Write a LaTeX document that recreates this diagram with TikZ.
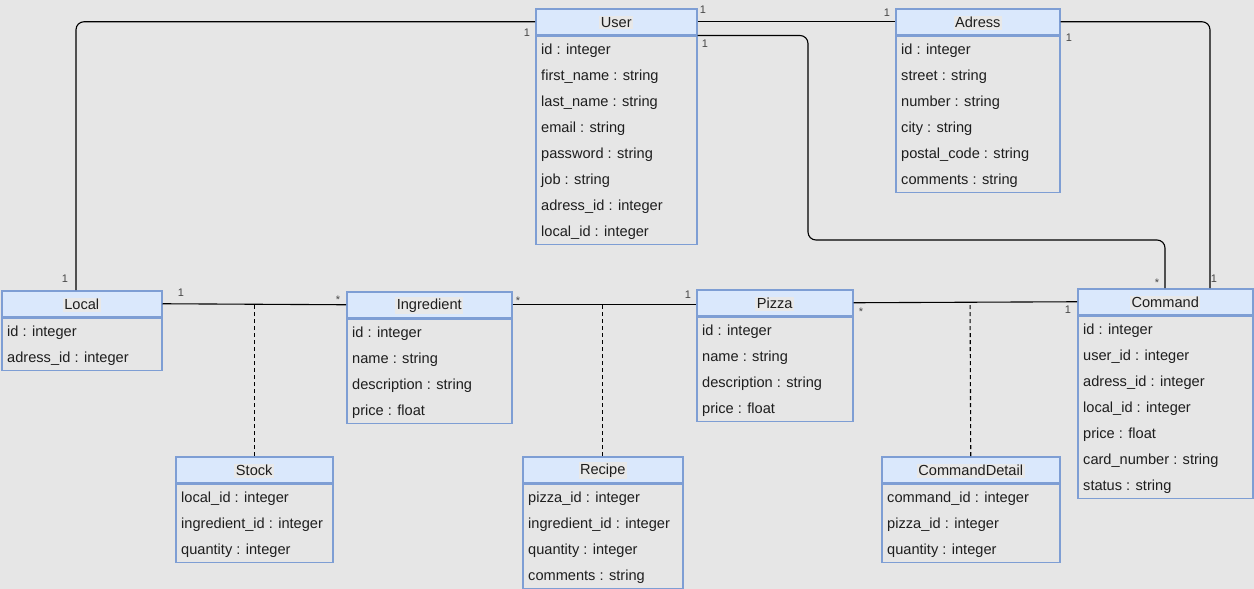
\documentclass[tikz,border=0pt]{standalone}
\usepackage{fontspec}
\setmainfont{Liberation Sans}
\usetikzlibrary{calc}
\definecolor{bg}{RGB}{230,230,230}
\definecolor{hdrfill}{RGB}{218,232,252}
\definecolor{hdrline}{RGB}{126,158,212}
\definecolor{titlebg}{RGB}{232,232,232}
\definecolor{lbl}{RGB}{70,70,70}
\definecolor{txt}{RGB}{30,30,30}

\tikzset{
  hdr/.style={draw=hdrline, fill=hdrfill, line width=1.5pt, minimum height=26pt, inner sep=0pt, anchor=north west},
  bodybox/.style={draw=hdrline, line width=1.5pt, inner sep=0pt, anchor=north west},
  clstitle/.style={fill=titlebg, inner sep=1.5pt, font=\fontsize{14.6}{17}\selectfont, text=txt},
  attr/.style={anchor=west, inner sep=0pt, font=\fontsize{14.6}{17}\selectfont, text=txt},
  conn/.style={draw=black, line width=1.1pt, rounded corners=8pt},
  assoc/.style={draw=black, line width=1.1pt, dash pattern=on 4pt off 3pt},
  mult/.style={font=\fontsize{11}{12}\selectfont, text=lbl, inner sep=0pt},
}

% class box: name, left, top, width, title, number of rows, rows
\newcommand\umlclass[7]{%
  \node[hdr, minimum width=#4pt] (#1) at (#2,#3) {};
  \node[clstitle] (#1-title) at ($(#1.center)+(0,1)$) {#5};
  \node[bodybox, minimum width=#4pt, minimum height=#6*26pt] (#1-body) at (#1.south west) {};
  \foreach \r [count=\i] in {#7}
    \node[attr] (#1-row\i) at ($(#1-body.north west)+(6,\i*26-11)$) {\r};
}

\begin{document}
\begin{tikzpicture}[x=1pt, y=-1pt]
\fill[bg] (0,0) rectangle (1254,589);
\useasboundingbox (0,0) rectangle (1254,589);

\umlclass{user}{535}{8}{161}{User}{8}{id : integer, first\_name : string, last\_name : string, email : string, password : string, job : string, adress\_id : integer, local\_id : integer}
\umlclass{adress}{895}{8}{164}{Adress}{6}{id : integer, street : string, number : string, city : string, postal\_code : string, comments : string}
\umlclass{local}{1}{290}{160}{Local}{2}{id : integer, adress\_id : integer}
\umlclass{ingredient}{346}{291}{165}{Ingredient}{4}{id : integer, name : string, description : string, price : float}
\umlclass{pizza}{696}{289}{156}{Pizza}{4}{id : integer, name : string, description : string, price : float}
\umlclass{command}{1077}{288}{175}{Command}{7}{id : integer, user\_id : integer, adress\_id : integer, local\_id : integer, price : float, card\_number : string, status : string}
\umlclass{stock}{175}{456}{157}{Stock}{3}{local\_id : integer, ingredient\_id : integer, quantity : integer}
\umlclass{recipe}{522}{456}{160}{Recipe}{4}{pizza\_id : integer, ingredient\_id : integer, quantity : integer, comments : string}
\umlclass{cdetail}{881}{456}{178}{CommandDetail}{3}{command\_id : integer, pizza\_id : integer, quantity : integer}

% associations
\draw[conn] (user.west) -| ($(local.north west)+(75,0)$);
\draw[conn] (user.east) -- (adress.west);
\draw[conn] (user.south east) -| (808,240) -| ($(command.north west)+(88,0)$);
\draw[conn] (adress.east) -| ($(command.north west)+(133,0)$);
\draw[conn] (local.east) -- (ingredient.west);
\draw[conn] (ingredient.east) -- (ingredient.east -| pizza.west);
\draw[conn] (pizza.east) -- (command.west);

% association classes
\draw[assoc] (stock.north) -- (stock.north |- local.east);
\draw[assoc] (recipe.north) -- (recipe.north |- ingredient.east);
\draw[assoc] (cdetail.north) -- ($(pizza.east)!(cdetail.north)!(command.west)$);

% multiplicities
\node[mult] (m1) at (527,33) {1};
\node[mult] (m2) at (65,279) {1};
\node[mult] (m3) at (703,10) {1};
\node[mult] (m4) at (887,13) {1};
\node[mult] (m5) at (705,44) {1};
\node[mult] (m6) at (1157,283) {*};
\node[mult] (m7) at (1069,38) {1};
\node[mult] (m8) at (1214,279) {1};
\node[mult] (m9) at (181,293) {1};
\node[mult] (m10) at (338,300) {*};
\node[mult] (m11) at (518,301) {*};
\node[mult] (m12) at (688,295) {1};
\node[mult] (m13) at (861,312) {*};
\node[mult] (m14) at (1068,310) {1};
\end{tikzpicture}
\end{document}
